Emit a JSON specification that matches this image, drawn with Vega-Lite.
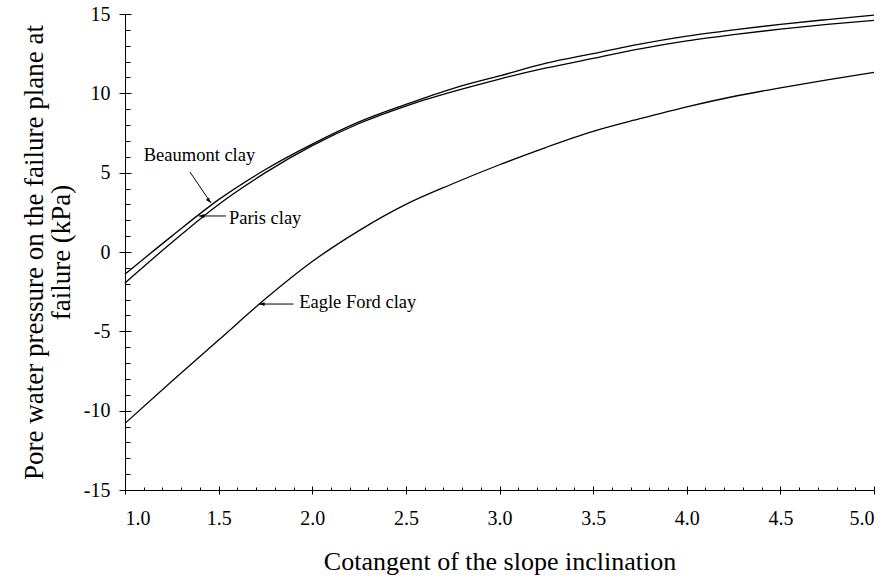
{
  "$schema": "https://vega.github.io/schema/vega-lite/v6.json",
  "width": 749,
  "height": 476,
  "autosize": "none",
  "padding": {"left": 125, "top": 14, "right": 15, "bottom": 89},
  "background": "white",
  "config": {
    "view": {"stroke": null},
    "font": "Liberation Serif",
    "axis": {"domainColor": "black", "tickColor": "black", "labelColor": "black", "titleColor": "black", "grid": false, "labelFont": "Liberation Serif", "titleFont": "Liberation Serif", "titleFontWeight": "normal", "domainWidth": 1, "tickWidth": 1}
  },
  "datasets": {
    "curves": [
      {"clay": "Beaumont clay", "x": 1.0, "y": -1.4},
      {"clay": "Beaumont clay", "x": 1.25, "y": 1.0},
      {"clay": "Beaumont clay", "x": 1.5, "y": 3.3},
      {"clay": "Beaumont clay", "x": 1.75, "y": 5.2},
      {"clay": "Beaumont clay", "x": 2.0, "y": 6.8},
      {"clay": "Beaumont clay", "x": 2.25, "y": 8.2},
      {"clay": "Beaumont clay", "x": 2.5, "y": 9.3},
      {"clay": "Beaumont clay", "x": 2.75, "y": 10.3},
      {"clay": "Beaumont clay", "x": 3.0, "y": 11.1},
      {"clay": "Beaumont clay", "x": 3.25, "y": 11.9},
      {"clay": "Beaumont clay", "x": 3.5, "y": 12.5},
      {"clay": "Beaumont clay", "x": 3.75, "y": 13.1},
      {"clay": "Beaumont clay", "x": 4.0, "y": 13.6},
      {"clay": "Beaumont clay", "x": 4.25, "y": 14.0},
      {"clay": "Beaumont clay", "x": 4.5, "y": 14.35},
      {"clay": "Beaumont clay", "x": 4.75, "y": 14.65},
      {"clay": "Beaumont clay", "x": 5.0, "y": 14.93},
      {"clay": "Paris clay", "x": 1.0, "y": -1.95},
      {"clay": "Paris clay", "x": 1.25, "y": 0.6},
      {"clay": "Paris clay", "x": 1.5, "y": 3.0},
      {"clay": "Paris clay", "x": 1.75, "y": 5.0},
      {"clay": "Paris clay", "x": 2.0, "y": 6.7},
      {"clay": "Paris clay", "x": 2.25, "y": 8.1},
      {"clay": "Paris clay", "x": 2.5, "y": 9.2},
      {"clay": "Paris clay", "x": 2.75, "y": 10.1},
      {"clay": "Paris clay", "x": 3.0, "y": 10.9},
      {"clay": "Paris clay", "x": 3.25, "y": 11.6},
      {"clay": "Paris clay", "x": 3.5, "y": 12.2},
      {"clay": "Paris clay", "x": 3.75, "y": 12.8},
      {"clay": "Paris clay", "x": 4.0, "y": 13.3},
      {"clay": "Paris clay", "x": 4.25, "y": 13.7},
      {"clay": "Paris clay", "x": 4.5, "y": 14.05},
      {"clay": "Paris clay", "x": 4.75, "y": 14.35},
      {"clay": "Paris clay", "x": 5.0, "y": 14.6},
      {"clay": "Eagle Ford clay", "x": 1.0, "y": -10.8},
      {"clay": "Eagle Ford clay", "x": 1.25, "y": -8.15},
      {"clay": "Eagle Ford clay", "x": 1.5, "y": -5.55},
      {"clay": "Eagle Ford clay", "x": 1.75, "y": -2.95},
      {"clay": "Eagle Ford clay", "x": 2.0, "y": -0.6},
      {"clay": "Eagle Ford clay", "x": 2.25, "y": 1.35},
      {"clay": "Eagle Ford clay", "x": 2.5, "y": 3.0},
      {"clay": "Eagle Ford clay", "x": 2.75, "y": 4.3},
      {"clay": "Eagle Ford clay", "x": 3.0, "y": 5.5},
      {"clay": "Eagle Ford clay", "x": 3.25, "y": 6.6},
      {"clay": "Eagle Ford clay", "x": 3.5, "y": 7.6},
      {"clay": "Eagle Ford clay", "x": 3.75, "y": 8.4},
      {"clay": "Eagle Ford clay", "x": 4.0, "y": 9.15},
      {"clay": "Eagle Ford clay", "x": 4.25, "y": 9.8},
      {"clay": "Eagle Ford clay", "x": 4.5, "y": 10.35},
      {"clay": "Eagle Ford clay", "x": 4.75, "y": 10.85},
      {"clay": "Eagle Ford clay", "x": 5.0, "y": 11.32}
    ],
    "labels": [
      {"label": "Beaumont clay", "x": 1.10, "y": 6.1},
      {"label": "Paris clay", "x": 1.555, "y": 2.15},
      {"label": "Eagle Ford clay", "x": 1.93, "y": -3.15}
    ],
    "arrows": [
      {"label": "Beaumont clay", "x": 1.347, "y": 5.04, "x2": 1.459, "y2": 3.09},
      {"label": "Paris clay", "x": 1.539, "y": 2.27, "x2": 1.395, "y2": 2.27},
      {"label": "Eagle Ford clay", "x": 1.90, "y": -3.28, "x2": 1.716, "y2": -3.28}
    ]
  },
  "resolve": {"axis": {"x": "independent", "y": "independent"}},
  "layer": [
    {
      "data": {"name": "curves"},
      "mark": {"type": "line", "color": "black", "strokeWidth": 1.3, "interpolate": "monotone"},
      "encoding": {
        "x": {"field": "x", "type": "quantitative", "scale": {"domain": [1, 5], "nice": false, "zero": false},
          "axis": {"orient": "bottom", "values": [1, 1.5, 2, 2.5, 3, 3.5, 4, 4.5, 5], "format": ".1f", "tickSize": 4, "labelFontSize": 20, "labelPadding": 14, "title": "Cotangent of the slope inclination", "titleFontSize": 26, "titlePadding": 20}},
        "y": {"field": "y", "type": "quantitative", "scale": {"domain": [-15, 15], "nice": false, "zero": false},
          "axis": {"orient": "left", "values": [-15, -10, -5, 0, 5, 10, 15], "labelExpr": "'' + datum.value", "tickSize": 6, "labelFontSize": 20, "labelPadding": 9, "title": ["Pore water pressure on the failure plane at", "failure (kPa)"], "titleFontSize": 27, "titlePadding": 8, "titleLineHeight": 27}},
        "detail": {"field": "clay", "type": "nominal"}
      }
    },
    {
      "data": {"name": "curves"},
      "mark": {"type": "point", "opacity": 0},
      "encoding": {
        "x": {"field": "x", "type": "quantitative", "axis": {"orient": "bottom", "values": [1, 1.5, 2, 2.5, 3, 3.5, 4, 4.5, 5], "tickSize": -4, "labels": false, "domain": false, "title": null}},
        "y": {"field": "y", "type": "quantitative", "axis": {"orient": "left", "values": [-15, -10, -5, 0, 5, 10, 15], "tickSize": -6, "labels": false, "domain": false, "title": null}}
      }
    },
    {
      "data": {"name": "curves"},
      "mark": {"type": "point", "opacity": 0},
      "encoding": {
        "x": {"field": "x", "type": "quantitative", "axis": {"orient": "bottom", "values": [1.1, 1.2, 1.3, 1.4, 1.6, 1.7, 1.8, 1.9, 2.1, 2.2, 2.3, 2.4, 2.6, 2.7, 2.8, 2.9, 3.1, 3.2, 3.3, 3.4, 3.6, 3.7, 3.8, 3.9, 4.1, 4.2, 4.3, 4.4, 4.6, 4.7, 4.8, 4.9], "tickSize": -3, "labels": false, "domain": false, "title": null}},
        "y": {"field": "y", "type": "quantitative", "axis": {"orient": "left", "values": [-14, -13, -12, -11, -9, -8, -7, -6, -4, -3, -2, -1, 1, 2, 3, 4, 6, 7, 8, 9, 11, 12, 13, 14], "tickSize": -5, "labels": false, "domain": false, "title": null}}
      }
    },
    {
      "data": {"name": "arrows"},
      "mark": {"type": "rule", "color": "black", "strokeWidth": 1},
      "encoding": {
        "x": {"field": "x", "type": "quantitative", "axis": null},
        "y": {"field": "y", "type": "quantitative", "axis": null},
        "x2": {"field": "x2"},
        "y2": {"field": "y2"}
      }
    },
    {
      "data": {"name": "arrows"},
      "transform": [{"filter": "datum.label !== 'Beaumont clay'"}],
      "mark": {"type": "point", "shape": "M0,0 L2,-0.7 L2,0.7 Z", "filled": true, "color": "black", "opacity": 1, "size": 30},
      "encoding": {
        "x": {"field": "x2", "type": "quantitative", "axis": null},
        "y": {"field": "y2", "type": "quantitative", "axis": null}
      }
    },
    {
      "data": {"name": "arrows"},
      "transform": [{"filter": "datum.label === 'Beaumont clay'"}],
      "mark": {"type": "point", "shape": "M0,0 L2,-0.7 L2,0.7 Z", "filled": true, "color": "black", "opacity": 1, "size": 30, "angle": 229},
      "encoding": {
        "x": {"field": "x2", "type": "quantitative", "axis": null},
        "y": {"field": "y2", "type": "quantitative", "axis": null}
      }
    },
    {
      "data": {"name": "labels"},
      "mark": {"type": "text", "align": "left", "baseline": "middle", "fontSize": 18.5, "font": "Liberation Serif", "color": "black"},
      "encoding": {
        "x": {"field": "x", "type": "quantitative", "axis": null},
        "y": {"field": "y", "type": "quantitative", "axis": null},
        "text": {"field": "label"}
      }
    }
  ]
}
